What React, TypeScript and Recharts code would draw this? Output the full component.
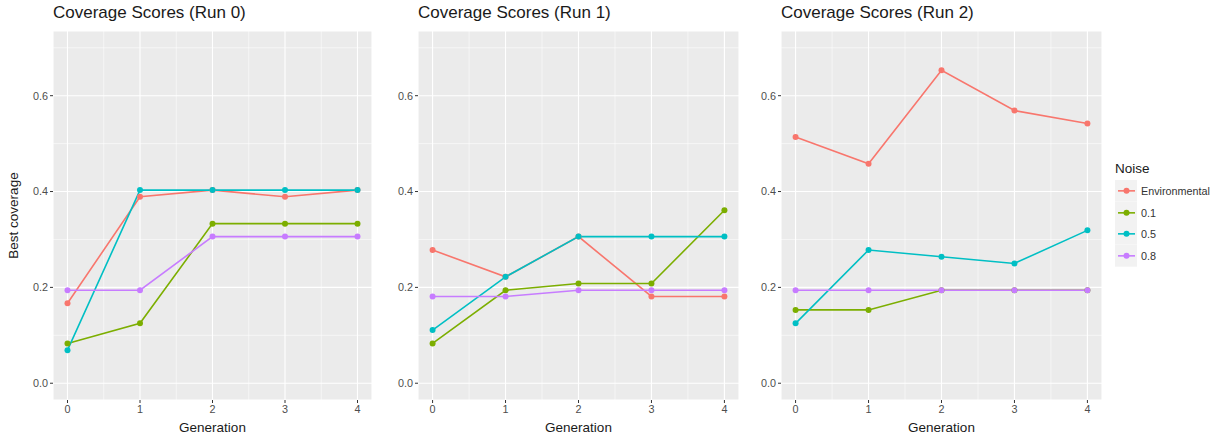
import { LineChart, Line, XAxis, YAxis, CartesianGrid, ReferenceLine, Legend } from 'recharts';

const generations = [0, 1, 2, 3, 4];
const noiseLevels = ['Environmental', '0.1', '0.5', '0.8'];
const noiseColors = ['#F8766D', '#7CAE00', '#00BFC4', '#C77CFF'];

// run 0
const run0Environmental = [0.167, 0.389, 0.403, 0.389, 0.403];
const run0Noise01 = [0.083, 0.125, 0.333, 0.333, 0.333];
const run0Noise05 = [0.069, 0.403, 0.403, 0.403, 0.403];
const run0Noise08 = [0.194, 0.194, 0.306, 0.306, 0.306];

// run 1
const run1Environmental = [0.278, 0.222, 0.306, 0.181, 0.181];
const run1Noise01 = [0.083, 0.194, 0.208, 0.208, 0.361];
const run1Noise05 = [0.111, 0.222, 0.306, 0.306, 0.306];
const run1Noise08 = [0.181, 0.181, 0.194, 0.194, 0.194];

// run 2
const run2Environmental = [0.514, 0.458, 0.653, 0.569, 0.542];
const run2Noise01 = [0.153, 0.153, 0.194, 0.194, 0.194];
const run2Noise05 = [0.125, 0.278, 0.264, 0.25, 0.319];
const run2Noise08 = [0.194, 0.194, 0.194, 0.194, 0.194];

const runTitles = ['Coverage Scores (Run 0)', 'Coverage Scores (Run 1)', 'Coverage Scores (Run 2)'];
const runSeries = [
  [run0Environmental, run0Noise01, run0Noise05, run0Noise08],
  [run1Environmental, run1Noise01, run1Noise05, run1Noise08],
  [run2Environmental, run2Noise01, run2Noise05, run2Noise08],
];

const yTicks = [0, 0.2, 0.4, 0.6];
const yMinor = [0.1, 0.3, 0.5, 0.7];
const xMinor = [0.5, 1.5, 2.5, 3.5];

const FONT = '"Liberation Sans", Arial, sans-serif';

// chart boxes: left, width, y-axis width, right margin
const panels = [
  { left: 0, width: 380, axisW: 53, right: 8 },
  { left: 376, width: 370, axisW: 42, right: 7 },
  { left: 746, width: 485, axisW: 35, right: 129 },
];

function buildRows(series: number[][]) {
  return generations.map((g, i) => {
    const row: Record<string, number> = { gen: g };
    series.forEach((s, k) => {
      row[noiseLevels[k]] = s[i];
    });
    return row;
  });
}

function NoiseLegend(props: any) {
  // keep the factor order, not alphabetical
  const items = [...(props.payload || [])].sort(
    (a: any, b: any) => noiseLevels.indexOf(a.value) - noiseLevels.indexOf(b.value)
  );
  return (
    <div style={{ fontFamily: FONT, color: '#1a1a1a' }}>
      <div style={{ fontSize: 13.5, lineHeight: '16px', marginBottom: 3 }}>Noise</div>
      {items.map((it: any) => (
        <div key={it.value} style={{ display: 'flex', alignItems: 'center', height: 21.7 }}>
          <svg width={22} height={21.7} style={{ display: 'block' }}>
            <rect x={0} y={0} width={22} height={21.7} fill="#F2F2F2" />
            <line x1={3} x2={20} y1={10.85} y2={10.85} stroke={it.color} strokeWidth={1.6} />
            <circle cx={11.5} cy={10.85} r={3} fill={it.color} />
          </svg>
          <span style={{ fontSize: 10.8, marginLeft: 4, color: '#333' }}>{it.value}</span>
        </div>
      ))}
    </div>
  );
}

function RunPanel({ idx }: { idx: number }) {
  const p = panels[idx];
  const data = buildRows(runSeries[idx]);
  return (
    <div style={{ position: 'absolute', left: p.left, top: 0, width: p.width, height: 436 }}>
      <div
        style={{
          position: 'absolute',
          left: p.axisW,
          top: 4,
          fontSize: 17,
          lineHeight: '17px',
          color: '#1a1a1a',
          whiteSpace: 'nowrap',
        }}
      >
        {runTitles[idx]}
      </div>
      <LineChart width={p.width} height={436} data={data} margin={{ top: 31, right: p.right, bottom: 0, left: 0 }}>
        <CartesianGrid fill="#EBEBEB" stroke="#FFFFFF" strokeWidth={1.1} />
        {yMinor.map((v) => (
          <ReferenceLine key={'y' + v} y={v} stroke="#FFFFFF" strokeWidth={0.55} zIndex={-50} />
        ))}
        {xMinor.map((v) => (
          <ReferenceLine key={'x' + v} x={v} stroke="#FFFFFF" strokeWidth={0.55} zIndex={-50} />
        ))}
        <XAxis
          dataKey="gen"
          type="number"
          domain={[-0.2, 4.2]}
          ticks={generations}
          allowDataOverflow
          height={36}
          axisLine={false}
          tickLine={{ stroke: '#333333' }}
          tickSize={3}
          tickMargin={2}
          tick={{ fill: '#4D4D4D', fontSize: 10.8 }}
          label={{ value: 'Generation', position: 'insideBottom', offset: 4, fill: '#1a1a1a', fontSize: 13.5 }}
        />
        <YAxis
          type="number"
          domain={[-0.035, 0.735]}
          ticks={yTicks}
          allowDataOverflow
          width={p.axisW}
          axisLine={false}
          tickLine={{ stroke: '#333333' }}
          tickSize={3}
          tickMargin={2}
          tickFormatter={(v: number) => v.toFixed(1)}
          tick={{ fill: '#4D4D4D', fontSize: 10.8 }}
          label={
            idx === 0
              ? {
                  value: 'Best coverage',
                  angle: -90,
                  position: 'insideLeft',
                  offset: 13,
                  fill: '#1a1a1a',
                  fontSize: 13.5,
                  style: { textAnchor: 'middle' },
                }
              : undefined
          }
        />
        {noiseLevels.map((n, k) => (
          <Line
            key={n}
            type="linear"
            dataKey={n}
            name={n}
            stroke={noiseColors[k]}
            strokeWidth={1.6}
            dot={{ r: 3, fill: noiseColors[k], stroke: noiseColors[k], strokeWidth: 0 }}
            activeDot={false}
            isAnimationActive={false}
          />
        ))}
        {idx === 2 && (
          <Legend
            layout="vertical"
            align="center"
            verticalAlign="middle"
            wrapperStyle={{ left: 369, top: 161, width: 116 }}
            content={NoiseLegend}
          />
        )}
      </LineChart>
    </div>
  );
}

export default function App() {
  return (
    <div
      style={{
        position: 'absolute',
        left: 0,
        top: 0,
        width: 1231,
        height: 436,
        background: '#FFFFFF',
        fontFamily: FONT,
      }}
    >
      {runTitles.map((t, i) => (
        <RunPanel key={t} idx={i} />
      ))}
    </div>
  );
}
